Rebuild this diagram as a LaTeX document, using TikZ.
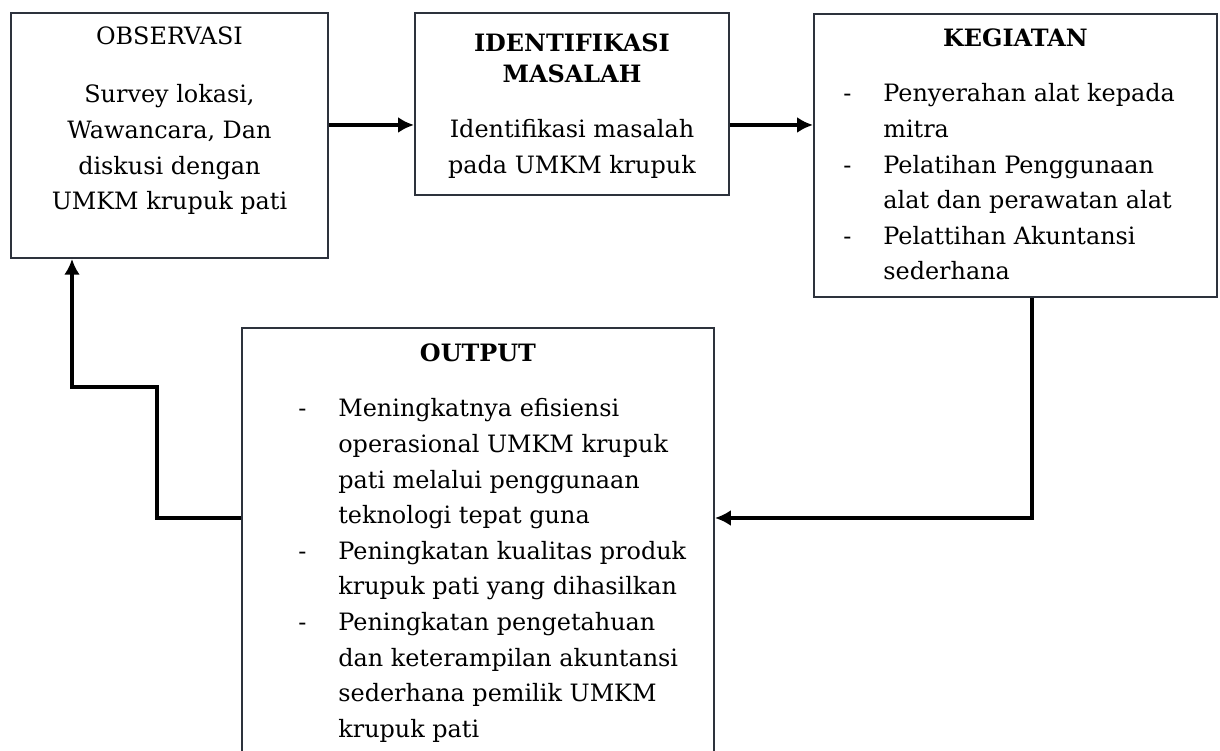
\documentclass[tikz,border=0pt]{standalone}
\usepackage{fontspec}
\setmainfont{DejaVu Serif}
\usetikzlibrary{%
  arrows.meta,%
  positioning% wg. " of "
}
\definecolor{boxline}{RGB}{45,50,60}

\begin{document}
\begin{tikzpicture}[>={Latex[length=9pt,width=9pt]},
	stage/.style={
	rectangle,
	anchor=north west,
	line width=1.1pt,
	draw=boxline,
	fill=white
	},title/.style={
	anchor=base,inner sep=0pt,
	font=\fontsize{13.6}{20.25}\selectfont\bfseries
	},body/.style={
	inner sep=0pt,
	font=\fontsize{13.6}{20.25}\selectfont
	},flow/.style={
	line width=1.8pt,->
	}
]

\clip (0,0) rectangle (24.4,15.02);

% boxes
\node (obs) [stage, minimum width=6.34cm, minimum height=4.9cm] at (0.2,14.78) {};
\node (ident) [stage, minimum width=6.28cm, minimum height=3.64cm] at (8.28,14.78) {};
\node (keg) [stage, minimum width=8.06cm, minimum height=5.66cm] at (16.26,14.76) {};
\node (out) [stage, minimum width=9.44cm, minimum height=9cm] at (4.82,8.48) {};

% texts
\node (obsT) [title, font=\fontsize{13.6}{20.25}\selectfont] at ([yshift=-0.66cm]obs.north) {OBSERVASI};
\node (obsB) [body, anchor=base] at ([yshift=-1.82cm]obs.north) {\begin{tabular}[t]{@{}c@{}}
Survey lokasi,\\ Wawancara, Dan\\ diskusi dengan\\ UMKM krupuk pati
\end{tabular}};

\node (identT) [title] at ([yshift=-0.8cm]ident.north) {{\renewcommand{\arraystretch}{0.87}\begin{tabular}[t]{@{}c@{}}
IDENTIFIKASI\\ MASALAH
\end{tabular}}};
\node (identB) [body, anchor=base] at ([yshift=-2.52cm]ident.north) {\begin{tabular}[t]{@{}c@{}}
Identifikasi masalah\\ pada UMKM krupuk
\end{tabular}};

\node (kegT) [title] at ([yshift=-0.68cm]keg.north) {KEGIATAN};
\node (kegL) [body, anchor=base west] at ([xshift=0.6cm,yshift=-1.78cm]keg.north west) {\begin{tabular}[t]{@{}p{0.8cm}@{}l@{}}
- & Penyerahan alat kepada\\
  & mitra\\
- & Pelatihan Penggunaan\\
  & alat dan perawatan alat\\
- & Pelattihan Akuntansi\\
  & sederhana
\end{tabular}};

\node (outT) [title] at ([yshift=-0.7cm]out.north) {OUTPUT};
\node (outL) [body, anchor=base west] at ([xshift=1.14cm,yshift=-1.8cm]out.north west) {\begin{tabular}[t]{@{}p{0.8cm}@{}l@{}}
- & Meningkatnya efisiensi\\
  & operasional UMKM krupuk\\
  & pati melalui penggunaan\\
  & teknologi tepat guna\\
- & Peningkatan kualitas produk\\
  & krupuk pati yang dihasilkan\\
- & Peningkatan pengetahuan\\
  & dan keterampilan akuntansi\\
  & sederhana pemilik UMKM\\
  & krupuk pati
\end{tabular}};

% connectors
\coordinate (toprow) at (0,12.52);
\draw[flow] (toprow -| obs.east) -- (toprow -| ident.west);
\draw[flow] (toprow -| ident.east) -- (toprow -| keg.west);

\coordinate (turnR) at (20.64,4.66);
\draw[flow] (turnR |- keg.south) -- (turnR) -- (turnR -| out.east);

\coordinate (stepA) at (3.14,4.66);
\coordinate (stepB) at (1.44,7.28);
\draw[flow] (stepA -| out.west) -- (stepA) |- (stepB) -- (stepB |- obs.south);

\end{tikzpicture}
\end{document}
